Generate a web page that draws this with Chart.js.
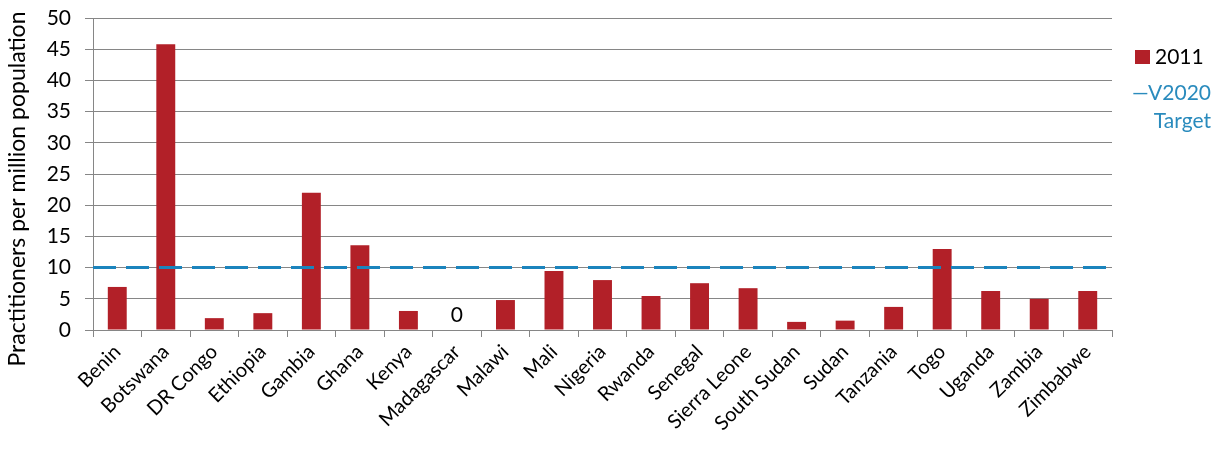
<!DOCTYPE html>
<html>
<head>
<meta charset="utf-8">
<script src="https://cdn.jsdelivr.net/npm/chart.js@4"></script>
<style>
  html, body { margin: 0; padding: 0; background: #ffffff; }
  #chart_container { width: 1219px; height: 460px; }
</style>
</head>
<body>
<div id="chart_container"><canvas id="chart_canvas"></canvas></div>
<script>
var countries = ["Benin", "Botswana", "DR Congo", "Ethiopia", "Gambia", "Ghana", "Kenya", "Madagascar", "Malawi", "Mali", "Nigeria", "Rwanda", "Senegal", "Sierra Leone", "South Sudan", "Sudan", "Tanzania", "Togo", "Uganda", "Zambia", "Zimbabwe"];
var values2011 = [6.9, 45.8, 1.9, 2.7, 22, 13.6, 3.05, 0, 4.8, 9.45, 8.0, 5.45, 7.5, 6.7, 1.3, 1.5, 3.7, 13, 6.25, 5.0, 6.25];
var targetValue = 10;
var targetLine = [{ x: 0, y: targetValue }, { x: 1, y: targetValue }];
var yTicks = [0, 5, 10, 15, 20, 25, 30, 35, 40, 45, 50];
var yTitle = "Practitioners per million population";

var fontName = "Lato, 'Liberation Sans', sans-serif";
var barColor = "#b22028";
var lineColor = "#1b84bd";

// zero values get a "0" label above the axis
var zeroLabels = {
    id: "zeroLabels",
    afterDatasetsDraw: function (chart) {
        var ctx = chart.ctx;
        var meta = chart.getDatasetMeta(0);
        ctx.save();
        ctx.font = "21px " + fontName;
        ctx.fillStyle = "#000000";
        ctx.textAlign = "center";
        ctx.textBaseline = "middle";
        values2011.forEach(function (v, i) {
            if (v === 0) {
                ctx.fillText("0", meta.data[i].x, meta.data[i].y - 15);
            }
        });
        ctx.restore();
    }
};

// legend and y title drawn by hand (wrapped target label, title sits a bit low)
var sideText = {
    id: "sideText",
    afterDraw: function (chart) {
        var ctx = chart.ctx;
        var left = chart.chartArea.right + 23;
        ctx.save();
        ctx.fillStyle = barColor;
        ctx.fillRect(left, 50, 15, 14);
        ctx.font = "21px " + fontName;
        ctx.textBaseline = "middle";
        ctx.textAlign = "left";
        ctx.fillStyle = "#000000";
        ctx.fillText(chart.data.datasets[0].label, left + 20, 57);
        ctx.fillStyle = "#2a8bbd";
        ctx.textAlign = "right";
        ctx.fillText("\u2014V2020", 1211, 93);
        ctx.fillText("Target", 1211, 121);

        ctx.translate(18, 189);
        ctx.rotate(-Math.PI / 2);
        ctx.font = "23px " + fontName;
        ctx.fillStyle = "#000000";
        ctx.textAlign = "center";
        ctx.fillText(yTitle, 0, 0);
        ctx.restore();
    }
};

var graph = new Chart(document.getElementById("chart_canvas"), {
    type: "bar",
    data: {
        labels: countries,
        datasets: [{
            label: "2011",
            data: values2011,
            backgroundColor: barColor,
            grouped: false,
            barPercentage: 0.39,
            categoryPercentage: 1.0,
            order: 2
        }, {
            type: "line",
            label: "V2020 Target",
            data: targetLine,
            xAxisID: "x2",
            borderColor: lineColor,
            borderWidth: 3,
            borderDash: [23, 10],
            pointRadius: 0,
            fill: false,
            order: 1
        }]
    },
    options: {
        responsive: true,
        maintainAspectRatio: false,
        animation: false,
        layout: {
            padding: { top: 18, right: 107, left: 0, bottom: 0 }
        },
        scales: {
            x: {
                offset: true,
                afterFit: function (axis) { axis.height = 130; },
                grid: {
                    offset: true,
                    drawOnChartArea: false,
                    color: "#868686",
                    tickLength: 7
                },
                border: { color: "#868686" },
                ticks: {
                    color: "#000000",
                    font: { family: fontName, size: 20 },
                    maxRotation: 45,
                    minRotation: 45,
                    autoSkip: false,
                    padding: 3
                }
            },
            x2: {
                type: "linear",
                display: false,
                offset: false,
                grid: { offset: false },
                min: 0,
                max: 1
            },
            y: {
                min: 0,
                max: 50,
                afterFit: function (axis) {
                    axis.width = 93;
                    axis.paddingTop = 0;
                    axis.paddingBottom = 0;
                },
                afterBuildTicks: function (axis) {
                    axis.ticks = yTicks.map(function (v) { return { value: v }; });
                },
                grid: {
                    color: "#868686",
                    tickLength: 8
                },
                border: { color: "#868686" },
                ticks: {
                    color: "#000000",
                    font: { family: fontName, size: 21 },
                    padding: 14
                }
            }
        },
        plugins: {
            legend: { display: false },
            tooltip: { enabled: false }
        }
    },
    plugins: [zeroLabels, sideText]
});
</script>
</body>
</html>
